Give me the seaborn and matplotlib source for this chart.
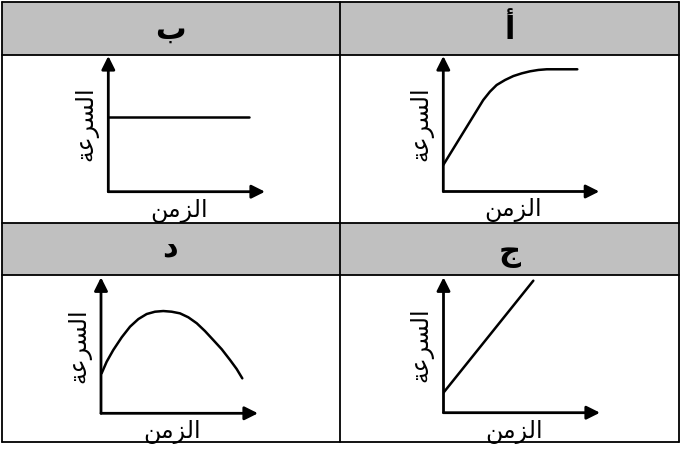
import matplotlib
matplotlib.use("Agg")
import matplotlib.pyplot as plt
from matplotlib.patches import Rectangle
import seaborn as sns

# header letters, in the order: top-right, top-left, bottom-right, bottom-left
letters = ["أ", "ب", "ج", "د"]

# axis labels, written in display order with Arabic presentation forms
# (matplotlib does no shaping / right-to-left layout on its own)
y_label = "\uFE94\uFECB\uFEAE\uFEB4\uFEDF\uFE8D"  # السرعة
x_label = "\uFEE6\uFEE3\uFEB0\uFEDF\uFE8D"        # الزمن

# curves (axis units 0..10)
time_a = [0, 2.56, 2.99, 3.42, 3.96, 4.49, 5.03, 5.56, 6.09, 6.63, 8.59]
speed_a = [1.96, 6.75, 7.37, 7.86, 8.23, 8.52, 8.72, 8.87, 8.97, 9.02, 9.02]

time_b = [0, 9.0]
speed_b = [5.48, 5.48]

time_c = [0, 5.74]
speed_c = [1.48, 9.75]

time_d = [0.04, 0.36, 0.78, 1.32, 1.85, 2.38, 2.91, 3.44, 3.97, 4.50,
          5.03, 5.56, 6.10, 6.62, 7.15, 7.69, 8.22, 8.64, 9.0]
speed_d = [2.94, 3.79, 4.65, 5.59, 6.37, 6.93, 7.30, 7.47, 7.52, 7.47,
           7.35, 7.06, 6.62, 6.05, 5.39, 4.71, 3.92, 3.26, 2.57]

W, H = 681, 449
GRAY = "#C0C0C0"

sns.set_style("white")
plt.rcParams['font.family'] = ['DejaVu Sans']
plt.rcParams['text.color'] = 'black'

fig = plt.figure(figsize=(W / 100, H / 100), dpi=100)

# --- table frame ---
bg = fig.add_axes([0, 0, 1, 1])
bg.set_xlim(0, W)
bg.set_ylim(H, 0)
bg.axis('off')

left, mid, right = 1.5, 339.5, 678.5
rows = [2, 54.5, 222.5, 275, 442]
for top, bot in [(rows[0], rows[1]), (rows[2], rows[3])]:
    bg.add_patch(Rectangle((left, top), right - left, bot - top, facecolor=GRAY, edgecolor='none'))
for y in rows:
    bg.plot([left, right], [y, y], color='black', lw=1.3)
for x in [left, mid, right]:
    bg.plot([x, x], [rows[0], rows[-1]], color='black', lw=1.3)

header_pos = [(510, 30), (170, 30), (510, 253), (170, 248)]
for (hx, hy), letter in zip(header_pos, letters):
    bg.text(hx, hy, letter, ha='center', va='center', fontsize=22, fontweight='bold', color='black')

# --- the four small graphs ---
# (origin x, origin y, width, height) in pixels
boxes = [(443.3, 191.5, 156, 135.5),
         (108.3, 191.7, 156.7, 135.7),
         (443.5, 412.7, 156.5, 135.4),
         (101, 413.3, 157, 136)]
curves = [(time_a, speed_a), (time_b, speed_b), (time_c, speed_c), (time_d, speed_d)]

for (ox, oy, w, h), (tx, sy) in zip(boxes, curves):
    ax = fig.add_axes([ox / W, (H - oy) / H, w / W, h / H])
    ax.set_xlim(0, 10)
    ax.set_ylim(0, 10)
    ax.axis('off')
    arrow = dict(arrowstyle='-|>', color='black', lw=2, mutation_scale=20, shrinkA=0, shrinkB=0)
    ax.annotate('', xy=(10, 0), xytext=(0, 0), arrowprops=arrow, annotation_clip=False)
    ax.annotate('', xy=(0, 10), xytext=(0, 0), arrowprops=arrow, annotation_clip=False)
    sns.lineplot(x=tx, y=sy, ax=ax, color='black', lw=1.8)
    ax.text(4.5, -1.4, x_label, ha='center', va='center', fontsize=17, color='black')
    ax.text(-1.4, 5.0, y_label, ha='center', va='center', rotation=90, fontsize=17, color='black')

fig.savefig("out.png", dpi=100)
